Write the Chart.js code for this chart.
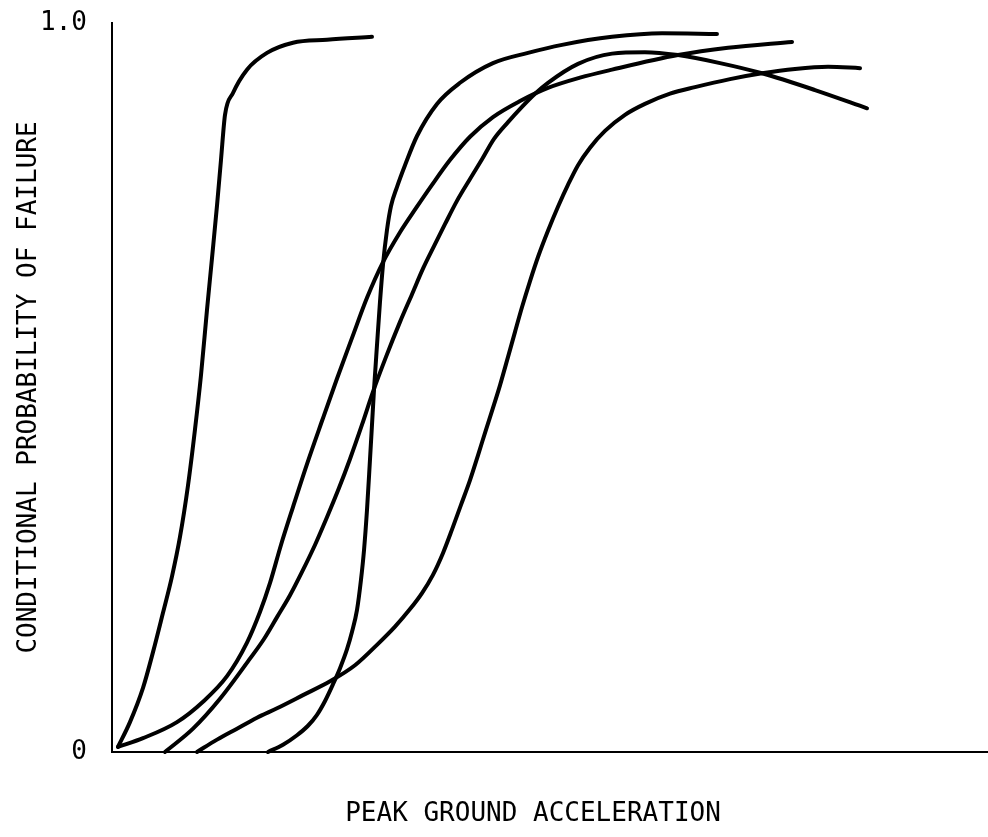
<!DOCTYPE html>
<html>
<head>
<meta charset="utf-8">
<script src="https://cdn.jsdelivr.net/npm/chart.js@4/dist/chart.umd.min.js"></script>
<style>
  html, body { margin: 0; padding: 0; background: #fff; }
  canvas { display: block; }
</style>
</head>
<body>
<canvas id="fragility" width="988" height="837"></canvas>
<script>
// Fragility curves: conditional probability of failure vs. peak ground acceleration
// (acceleration in relative units, 0 = origin, 1 = right end of the axis)

const curveA_x = [0.0068, 0.0205, 0.0354, 0.0468, 0.0582, 0.0685, 0.0776, 0.0868, 0.0947, 0.1016, 0.1084, 0.1142, 0.1199, 0.1244, 0.1290, 0.1381, 0.1541, 0.1769, 0.2066, 0.2454, 0.2968];
const curveA_p = [0.007, 0.041, 0.088, 0.137, 0.191, 0.241, 0.295, 0.366, 0.442, 0.517, 0.606, 0.678, 0.750, 0.812, 0.874, 0.904, 0.936, 0.959, 0.973, 0.977, 0.981];

const curveB_x = [0.0068, 0.0354, 0.0742, 0.1039, 0.1313, 0.1541, 0.1689, 0.1804, 0.1929, 0.2066, 0.2226, 0.2397, 0.2568, 0.2740, 0.2911, 0.3094, 0.3288, 0.3470, 0.3653, 0.3858, 0.4087, 0.4349, 0.4658, 0.4977, 0.5342, 0.5708, 0.6461, 0.7032, 0.7763];
const curveB_p = [0.007, 0.019, 0.041, 0.069, 0.104, 0.150, 0.192, 0.232, 0.284, 0.336, 0.395, 0.454, 0.512, 0.568, 0.623, 0.672, 0.713, 0.746, 0.778, 0.812, 0.844, 0.871, 0.893, 0.911, 0.925, 0.936, 0.956, 0.966, 0.974];

const curveC_x = [0.1781, 0.1952, 0.2112, 0.2237, 0.2340, 0.2432, 0.2523, 0.2603, 0.2683, 0.2740, 0.2797, 0.2842, 0.2877, 0.2911, 0.2945, 0.2968, 0.2991, 0.3025, 0.3059, 0.3094, 0.3139, 0.3185, 0.3253, 0.3345, 0.3482, 0.3710, 0.3973, 0.4349, 0.4749, 0.5137, 0.5708, 0.6279, 0.6906];
const curveC_p = [0.000, 0.010, 0.023, 0.036, 0.051, 0.070, 0.093, 0.115, 0.141, 0.165, 0.195, 0.236, 0.277, 0.332, 0.401, 0.449, 0.497, 0.558, 0.617, 0.669, 0.716, 0.749, 0.775, 0.805, 0.845, 0.889, 0.918, 0.945, 0.959, 0.970, 0.981, 0.986, 0.985];

const curveD_x = [0.0605, 0.0925, 0.1233, 0.1575, 0.1735, 0.1884, 0.2032, 0.2169, 0.2317, 0.2454, 0.2591, 0.2717, 0.2854, 0.2979, 0.3128, 0.3288, 0.3425, 0.3550, 0.3676, 0.3801, 0.3938, 0.4087, 0.4224, 0.4361, 0.4521, 0.4680, 0.4829, 0.4977, 0.5320, 0.5708, 0.6084, 0.6461, 0.6941, 0.7420, 0.8025, 0.8619];
const curveD_p = [0.000, 0.032, 0.073, 0.128, 0.155, 0.185, 0.215, 0.247, 0.284, 0.322, 0.362, 0.402, 0.449, 0.494, 0.542, 0.590, 0.628, 0.663, 0.694, 0.724, 0.756, 0.786, 0.813, 0.841, 0.864, 0.885, 0.903, 0.918, 0.944, 0.958, 0.960, 0.956, 0.945, 0.931, 0.908, 0.883];

const curveE_x = [0.0970, 0.1199, 0.1427, 0.1655, 0.1884, 0.2180, 0.2489, 0.2774, 0.3025, 0.3231, 0.3402, 0.3539, 0.3664, 0.3779, 0.3881, 0.3984, 0.4087, 0.4178, 0.4269, 0.4349, 0.4429, 0.4521, 0.4600, 0.4680, 0.4772, 0.4863, 0.4977, 0.5091, 0.5205, 0.5320, 0.5457, 0.5628, 0.5856, 0.6084, 0.6370, 0.6655, 0.7055, 0.7420, 0.7797, 0.8174, 0.8539];
const curveE_p = [0.000, 0.017, 0.032, 0.047, 0.060, 0.078, 0.097, 0.119, 0.147, 0.172, 0.196, 0.218, 0.243, 0.273, 0.305, 0.339, 0.373, 0.407, 0.442, 0.472, 0.503, 0.542, 0.576, 0.610, 0.646, 0.679, 0.715, 0.748, 0.778, 0.805, 0.829, 0.852, 0.874, 0.889, 0.903, 0.912, 0.923, 0.931, 0.937, 0.940, 0.938];

const yTickValues = [0, 1];
const yTickLabels = ['0', '1.0'];
const xAxisTitle = 'PEAK GROUND ACCELERATION';
const yAxisTitle = 'CONDITIONAL PROBABILITY OF FAILURE';

const FONT_FAMILY = '"DejaVu Sans Mono", "Liberation Mono", monospace';
const INK = '#000';

function toPoints(xs, ps) {
  return xs.map((x, i) => ({ x: x, y: ps[i] }));
}

function curve(xs, ps) {
  return {
    data: toPoints(xs, ps),
    borderColor: INK,
    borderWidth: 4,
    pointRadius: 0,
    fill: false,
    cubicInterpolationMode: 'monotone',
    borderCapStyle: 'round',
    borderJoinStyle: 'round',
    clip: false
  };
}

// Horizontal axis title, set slightly left of the axis centre
const xTitlePlugin = {
  id: 'xTitlePlugin',
  afterDraw(chart) {
    const { ctx, chartArea } = chart;
    ctx.save();
    ctx.font = '26px ' + FONT_FAMILY;
    ctx.fillStyle = INK;
    ctx.textAlign = 'center';
    ctx.textBaseline = 'middle';
    ctx.fillText(xAxisTitle, chartArea.left + chartArea.width * 0.4806, chartArea.bottom + 62);
    ctx.restore();
  }
};

new Chart(document.getElementById('fragility'), {
  type: 'line',
  data: {
    datasets: [
      curve(curveA_x, curveA_p),
      curve(curveB_x, curveB_p),
      curve(curveC_x, curveC_p),
      curve(curveD_x, curveD_p),
      curve(curveE_x, curveE_p)
    ]
  },
  options: {
    responsive: false,
    animation: false,
    events: [],
    layout: { padding: { top: 23, right: 0, bottom: 0, left: 0 } },
    plugins: {
      legend: { display: false },
      tooltip: { enabled: false },
      title: { display: false }
    },
    scales: {
      x: {
        type: 'linear',
        min: 0,
        max: 1,
        grid: { display: false, drawTicks: false },
        border: { display: true, color: INK, width: 2 },
        ticks: { display: false },
        afterFit(scale) {
          scale.height = 85;
          scale.paddingLeft = 0;
          scale.paddingRight = 0;
        }
      },
      y: {
        type: 'linear',
        min: 0,
        max: 1,
        grid: { display: false, drawTicks: false },
        border: { display: true, color: INK, width: 2 },
        afterBuildTicks(scale) {
          scale.ticks = yTickValues.map(v => ({ value: v }));
        },
        ticks: {
          color: INK,
          padding: 25,
          font: { family: FONT_FAMILY, size: 26 },
          callback(value) {
            const i = yTickValues.indexOf(value);
            return i >= 0 ? yTickLabels[i] : '';
          }
        },
        title: {
          display: true,
          text: yAxisTitle,
          color: INK,
          font: { family: FONT_FAMILY, size: 26 },
          padding: { top: 14, bottom: 0 }
        },
        afterFit(scale) {
          scale.width = 112;
          scale.paddingTop = 0;
          scale.paddingBottom = 0;
        }
      }
    }
  },
  plugins: [xTitlePlugin]
});
</script>
</body>
</html>
